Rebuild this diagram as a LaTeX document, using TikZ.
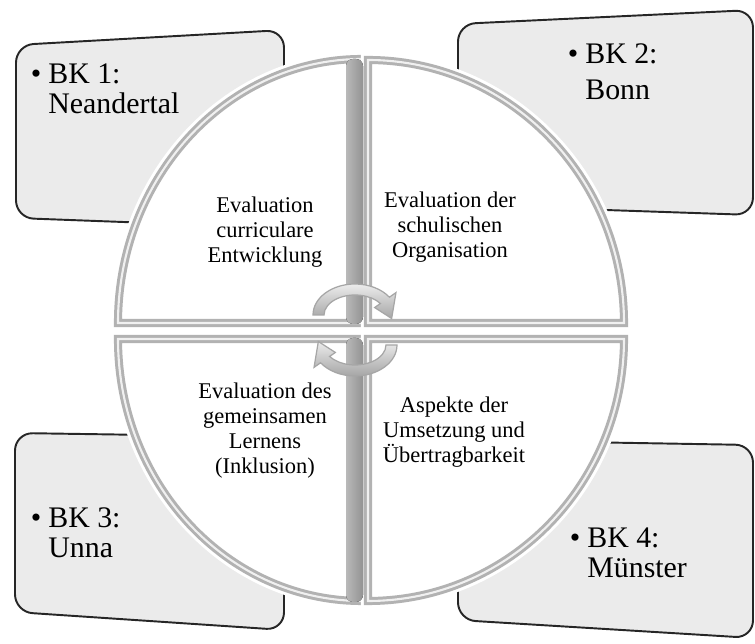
\documentclass[tikz,border=0pt]{standalone}
\usepackage{fontspec}
\setmainfont{Liberation Serif}
\usetikzlibrary{calc}

\begin{document}
\begin{tikzpicture}[x=0.02cm, y=-0.02cm,
    bk/.style={fill=gray!16, draw=black!85, line width=1.1pt, rounded corners=10pt},
    bktext/.style={anchor=north west, inner sep=0pt, align=left, font=\fontsize{17}{17.5}\selectfont},
    quad/.style={fill=white, draw=gray!60, double=gray!12, double distance=1.2pt, line width=1.7pt,
      preaction={draw=white, line width=8pt}},
    qtext/.style={anchor=north, inner sep=0pt, align=center, font=\fontsize{12.8}{14.2}\selectfont},
    bar/.style={left color=gray!55, right color=gray!85, rounded corners=4pt},
    turn/.style={top color=gray!15, bottom color=gray!70, draw=gray!70, line width=0.7pt}]

  \useasboundingbox (0,0) rectangle (755,644);

  % die vier Kollegs
  \draw[bk] (16,45) -- (284,30) -- (284,228) -- (16,218) -- cycle;
  \draw[bk] (458,24) -- (753,10) -- (753,215) -- (458,205) -- cycle;
  \draw[bk] (15,433) -- (284,437) -- (284,630) -- (15,612) -- cycle;
  \draw[bk] (458,440) -- (753,445) -- (753,638) -- (458,620) -- cycle;

  \node[bktext] (bk1) at (48,63) {\llap{\textbullet\hspace{4pt}}BK 1:\\Neandertal};
  \node[bktext] (bk2) at (585,43) {\llap{\textbullet\hspace{4pt}}BK 2:\\[3pt]Bonn};
  \node[bktext] (bk3) at (48,507) {\llap{\textbullet\hspace{4pt}}BK 3:\\Unna};
  \node[bktext] (bk4) at (587,527) {\llap{\textbullet\hspace{4pt}}BK 4:\\Münster};

  % Kreis aus vier Vierteln
  \draw[quad] (362,323) -- ++(0,-264) arc[start angle=270, end angle=180, x radius=244, y radius=264] -- cycle;
  \draw[quad] (368,323) -- ++(0,-263) arc[start angle=270, end angle=360, x radius=256, y radius=263] -- cycle;
  \draw[quad] (362,339) -- ++(0,262) arc[start angle=90, end angle=180, x radius=244, y radius=262] -- cycle;
  \draw[quad] (368,339) -- ++(0,262) arc[start angle=90, end angle=0, x radius=256, y radius=262] -- cycle;
  \fill[bar] (346,59) rectangle (363,324);
  \fill[bar] (346,338) rectangle (363,602);

  \node[qtext] (curr) at (265,197) {Evaluation\\curriculare\\Entwicklung};
  \node[qtext] (orga) at (450,192) {Evaluation der\\schulischen\\Organisation};
  \node[qtext] (inkl) at (265,383) {Evaluation des\\gemeinsamen\\Lernens\\(Inklusion)};
  \node[qtext] (umst) at (454,397) {Aspekte der\\Umsetzung und\\Übertragbarkeit};

  % Kreislaufpfeile
  \coordinate (t) at (355,315);
  \coordinate (b) at (355,345);
  \draw[turn] ($(t)+(180:42 and 31)$) arc[start angle=180, end angle=325, x radius=42, y radius=31]
    -- ($(t)+(325:50 and 39)$) -- ($(t)+(8:37 and 25)$) -- ($(t)+(325:24 and 13)$)
    -- ($(t)+(325:31 and 20)$) arc[start angle=325, end angle=180, x radius=31, y radius=20] -- cycle;
  \draw[turn] ($(b)+(0:42 and 31)$) arc[start angle=0, end angle=145, x radius=42, y radius=31]
    -- ($(b)+(145:50 and 39)$) -- ($(b)+(188:37 and 25)$) -- ($(b)+(145:24 and 13)$)
    -- ($(b)+(145:31 and 20)$) arc[start angle=145, end angle=0, x radius=31, y radius=20] -- cycle;
\end{tikzpicture}
\end{document}
